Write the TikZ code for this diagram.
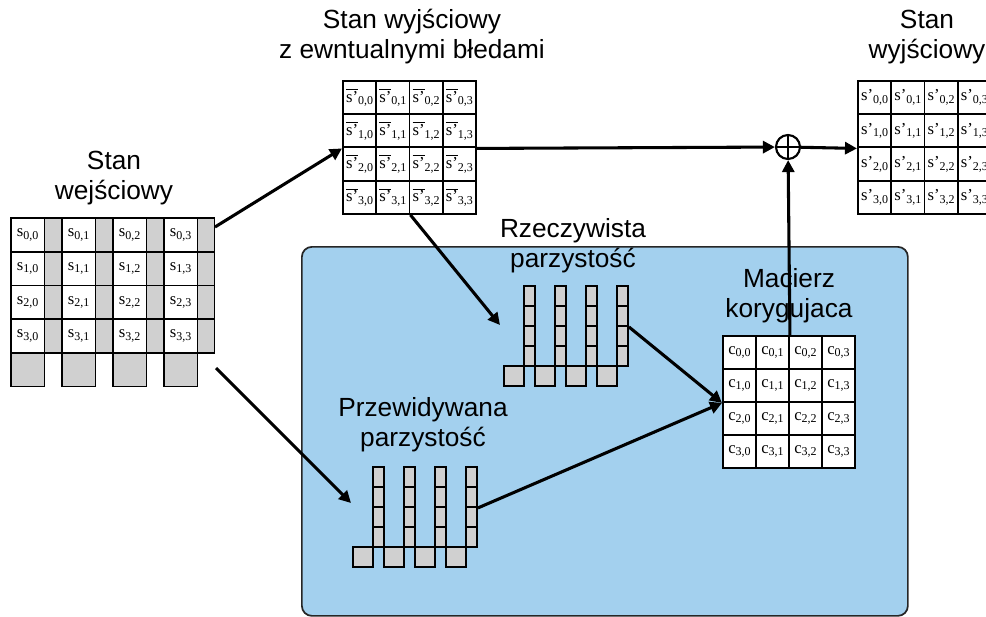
\documentclass[tikz,border=0pt]{standalone}
\usepackage{fontspec}
\setmainfont{Liberation Sans}
\newfontfamily\cellfont{Liberation Serif}
\usetikzlibrary{arrows.meta}
\definecolor{panelblue}{RGB}{163,208,238}
\definecolor{paritygray}{RGB}{208,208,208}
% lowered index used inside the matrix cells
\newcommand\lowidx[1]{\raisebox{-0.35ex}{\fontsize{9}{10}\selectfont #1}}
% s’ with a bar over it (possibly erroneous state)
\newcommand\barsprime{$\overline{\hbox{s’}}$}
\tikzset{
  cellbox/.style={draw=black, line width=1.45pt, fill=white, inner sep=0pt,
    anchor=north west, font=\cellfont\fontsize{12.5}{14}\selectfont},
  graycell/.style={draw=black, line width=1.45pt, fill=paritygray, inner sep=0pt,
    anchor=north west},
  flow/.style={line width=2.3pt, -{Triangle[length=9pt,width=9pt]}},
  caption/.style={align=center, font=\fontsize{19.7}{22.5}\selectfont},
  panel/.style={draw=black!85, line width=1.3pt, fill=panelblue,
    rounded corners=7.5pt, anchor=north west, inner sep=0pt},
  xorop/.style={circle, draw=black, line width=1.6pt, fill=white,
    minimum size=24*0.75pt, inner sep=0pt,
    path picture={\draw[line width=1.1pt]
      (path picture bounding box.north) -- (path picture bounding box.south)
      (path picture bounding box.west) -- (path picture bounding box.east);}}
}
\begin{document}
\begin{tikzpicture}[x=0.75pt,y=-0.75pt]
\useasboundingbox (0,0) rectangle (986,617);
\clip (0,0) rectangle (986,617);

% correction block background
\node[panel, minimum width=606*0.75pt, minimum height=369*0.75pt] (panel) at (301,246) {};

% input state with parity columns and parity squares
\foreach \row in {0,...,3}
  \foreach \col in {0,...,3} {
    \node[cellbox, minimum width=33.5*0.75pt, minimum height=33.75*0.75pt]
      (L-\row-\col) at ({10+51*\col},{217+33.75*\row}) {s\lowidx{\row,\col}};
    \node[graycell, minimum width=17*0.75pt, minimum height=33.75*0.75pt]
      (Lp-\row-\col) at ({43.5+51*\col},{217+33.75*\row}) {};
  }
\foreach \col in {0,...,3}
  \node[graycell, minimum width=33.5*0.75pt, minimum height=33.5*0.75pt]
    (Lq-\col) at ({10+51*\col},352) {};

% output state with possible errors
\foreach \row in {0,...,3}
  \foreach \col in {0,...,3}
    \node[cellbox, minimum width=33.25*0.75pt, minimum height=33.25*0.75pt]
      (T-\row-\col) at ({342+33.25*\col},{80+33.25*\row}) {\barsprime\lowidx{\row,\col}};

% corrected output state
\foreach \row in {0,...,3}
  \foreach \col in {0,...,3}
    \node[cellbox, minimum width=33.25*0.75pt, minimum height=33.25*0.75pt]
      (R-\row-\col) at ({857+33.25*\col},{80+33.25*\row}) {s’\lowidx{\row,\col}};

% correction matrix
\foreach \row in {0,...,3}
  \foreach \col in {0,...,3}
    \node[cellbox, minimum width=33*0.75pt, minimum height=33*0.75pt]
      (C-\row-\col) at ({722+33*\col},{335+33*\row}) {c\lowidx{\row,\col}};

% actual parity
\foreach \col in {0,...,3} {
  \foreach \row in {0,...,3}
    \node[graycell, minimum width=11*0.75pt, minimum height=20*0.75pt]
      (Pt-\row-\col) at ({523+31*\col},{285+20*\row}) {};
  \node[graycell, minimum width=20*0.75pt, minimum height=20*0.75pt]
    (Ptq-\col) at ({503+31*\col},365) {};
}

% predicted parity
\foreach \col in {0,...,3} {
  \foreach \row in {0,...,3}
    \node[graycell, minimum width=11*0.75pt, minimum height=20*0.75pt]
      (Pb-\row-\col) at ({372+31*\col},{466+20*\row}) {};
  \node[graycell, minimum width=20*0.75pt, minimum height=20*0.75pt]
    (Pbq-\col) at ({352+31*\col},546) {};
}

% captions
\node[caption] (inLbl) at (114,178) {Stan\\wejściowy};
\node[caption] (errLbl) at (412,37) {Stan wyjściowy\\z ewntualnymi błedami};
\node[caption] (outLbl) at (927,37) {Stan\\wyjściowy};
\node[caption] (actLbl) at (573,246) {Rzeczywista\\parzystość};
\node[caption] (corLbl) at (789,296) {Macierz\\korygujaca};
\node[caption] (preLbl) at (423,425) {Przewidywana\\parzystość};

% XOR of the erroneous state with the correction matrix
\node[xorop] (xor) at (788,147) {};

% free ends of the connectors
\coordinate (inTop) at (215,227);
\coordinate (inBot) at (216,368);
\coordinate (actIn) at (500,325);
\coordinate (preIn) at (351,503);

\draw[flow] (inTop) -- (T-1-0.south west);
\draw[flow] (T-1-3.south east) -- (xor);
\draw[flow] (xor) -- (R-1-0.south west);
\draw[flow] (C-0-1.north east) -- (xor);
\draw[flow] (T-3-1.south east) -- (actIn);
\draw[flow] (inBot) -- (preIn);
\draw[flow] (Pt-1-3.south east) -- (C-1-0.south west);
\draw[flow] (Pb-1-3.south east) -- (C-1-0.south west);
\end{tikzpicture}
\end{document}
